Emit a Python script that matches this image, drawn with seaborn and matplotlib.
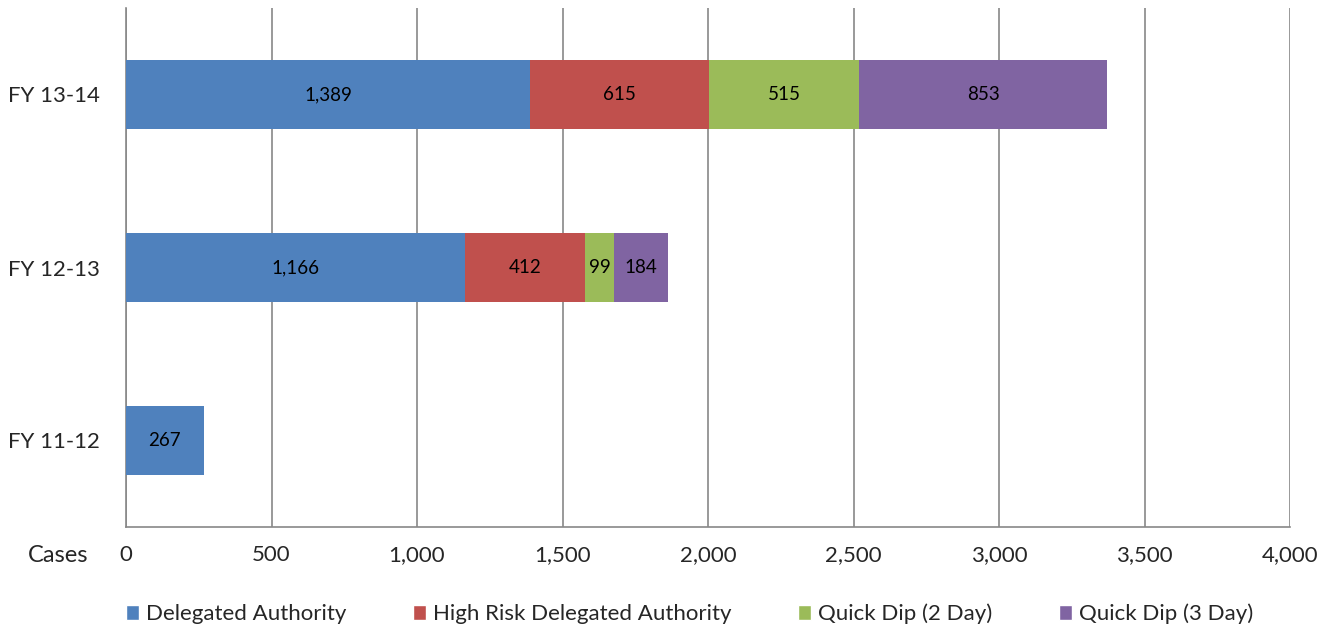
import matplotlib
matplotlib.use("Agg")
import matplotlib.pyplot as plt
import seaborn as sns
import numpy as np
import pandas as pd
from matplotlib.patches import Patch

categories = ["FY 13-14", "FY 12-13", "FY 11-12"]
series_names = ["Delegated Authority", "High Risk Delegated Authority",
                "Quick Dip (2 Day)", "Quick Dip (3 Day)"]
delegated = [1389, 1166, 267]
high_risk = [615, 412, 0]
quick_dip_2 = [515, 99, 0]
quick_dip_3 = [853, 184, 0]
colors = ["#4F81BD", "#C0504D", "#9BBB59", "#8064A2"]
x_ticks = [0, 500, 1000, 1500, 2000, 2500, 3000, 3500, 4000]

sns.set_theme(style="white")
plt.rcParams['font.family'] = ['Lato', 'DejaVu Sans']

series = [delegated, high_risk, quick_dip_2, quick_dip_3]
cum = np.cumsum(np.array(series), axis=0)

fig = plt.figure(figsize=(13.31, 6.29), dpi=100)
ax = fig.add_axes([126/1331, 1-527/629, (1290-126)/1331, (527-8)/629])

for i in range(len(series) - 1, -1, -1):
    df = pd.DataFrame({"cat": categories, "val": cum[i]})
    sns.barplot(data=df, x="val", y="cat", orient="h", color=colors[i],
                saturation=1, width=0.40, ax=ax, order=categories, zorder=3,
                linewidth=0, edgecolor="none")

for i, s in enumerate(series):
    for j, v in enumerate(s):
        if v > 0:
            start = cum[i][j] - v
            ax.text(start + v / 2, j, f"{v:,}", ha="center", va="center",
                    fontsize=13.5, color="black", zorder=4)

ax.set_xlim(0, 4000)
ax.set_ylim(2.5, -0.5)
ax.set_xticks(x_ticks)
ax.set_xticklabels([f"{t:,}" for t in x_ticks], fontsize=16)
ax.set_yticks([0, 1, 2])
ax.set_yticklabels(categories, fontsize=16)
ax.set_yticks([-0.5, 0.5, 1.5, 2.5], minor=True)
ax.tick_params(axis="y", which="major", length=0, pad=19)
ax.tick_params(axis="y", which="minor", length=6, color="#888888", width=1.2, direction="out")
ax.tick_params(axis="x", length=6, color="#888888", width=1.2, direction="inout", pad=10)
ax.set_xlabel("")
ax.set_ylabel("")
ax.grid(axis="x", color="#888888", linewidth=1.2, zorder=0)
ax.set_axisbelow(True)
for side in ["top", "right"]:
    ax.spines[side].set_visible(False)
for side in ["left", "bottom"]:
    ax.spines[side].set_color("#888888")
    ax.spines[side].set_linewidth(1.2)

fig.text(58/1331, 1-556/629, "Cases", fontsize=17, ha="center", va="center")

handles = [Patch(facecolor=c, label=n) for c, n in zip(colors, series_names)]
fig.legend(handles=handles, loc="center", bbox_to_anchor=(0.518, 1-614/629),
           ncol=4, frameon=False, fontsize=16, handlelength=0.6, handleheight=0.6,
           handletextpad=0.3, columnspacing=3.0)

fig.savefig("out.png", dpi=100)
